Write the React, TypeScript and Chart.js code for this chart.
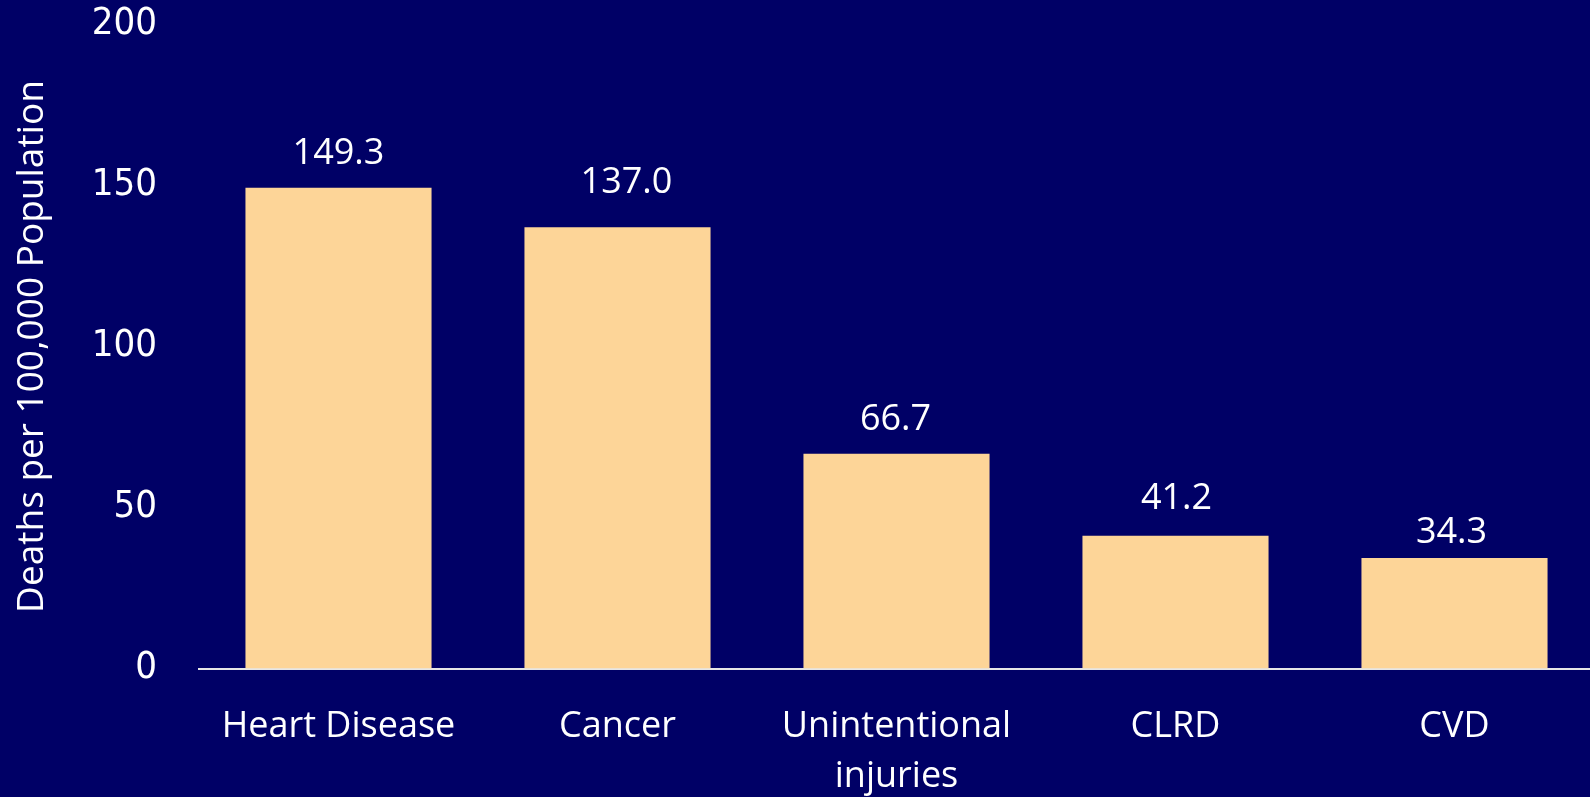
import React, { useEffect, useRef } from "react";
import { Chart, registerables } from "chart.js";

Chart.register(...registerables);

const categories: (string | string[])[] = [
  "Heart Disease",
  "Cancer",
  ["Unintentional", "injuries"],
  "CLRD",
  "CVD",
];
const deathRates: number[] = [149.3, 137.0, 66.7, 41.2, 34.3];
const yTicks: number[] = [0, 50, 100, 150, 200];
const yTitle = "Deaths per 100,000 Population";

// label placement tweaks (pixels relative to each bar's top/center)
const labelGap: number[] = [24, 34, 24, 27, 15];
const labelShiftX: number[] = [0, 9, -1, 1, -3];

const BG = "#000066";
const BAR = "#FDD598";
const WHITE = "#FFFFFF";

const valueLabelPlugin = {
  id: "valueLabels",
  afterDatasetsDraw(chart: any) {
    const ctx = chart.ctx;
    const meta = chart.getDatasetMeta(0);
    ctx.save();
    ctx.font = '36px "Open Sans"';
    ctx.fillStyle = WHITE;
    ctx.textAlign = "center";
    ctx.textBaseline = "alphabetic";
    meta.data.forEach((bar: any, i: number) => {
      const v = chart.data.datasets[0].data[i] as number;
      ctx.fillText(v.toFixed(1), bar.x + labelShiftX[i], bar.y - labelGap[i]);
    });
    ctx.restore();
  },
};

export default function App() {
  const ref = useRef<HTMLCanvasElement | null>(null);

  useEffect(() => {
    if (!ref.current) return;
    const chart = new Chart(ref.current, {
      type: "bar",
      data: {
        labels: categories,
        datasets: [
          {
            data: deathRates,
            backgroundColor: BAR,
            borderWidth: 0,
            barPercentage: 0.667,
            categoryPercentage: 1,
          },
        ],
      },
      options: {
        animation: false,
        responsive: false,
        maintainAspectRatio: false,
        layout: { padding: { top: 24.5, left: 0, right: 0, bottom: 0 } },
        plugins: {
          legend: { display: false },
          tooltip: { enabled: false },
        },
        scales: {
          x: {
            offset: true,
            grid: { display: false, drawTicks: false },
            border: { display: true, color: "#E6E6E6", width: 2 },
            ticks: {
              color: WHITE,
              font: { family: "Open Sans", size: 36, lineHeight: 1.39 },
              padding: 33.5,
              maxRotation: 0,
              autoSkip: false,
            },
            afterFit: (scale: any) => {
              scale.height = 797 - 668.5;
              scale.paddingLeft = 0;
              scale.paddingRight = 0;
            },
          },
          y: {
            min: 0,
            max: 200,
            afterBuildTicks: (scale: any) => {
              scale.ticks = yTicks.map((v) => ({ value: v }));
            },
            grid: { display: false, drawTicks: false },
            border: { display: false },
            ticks: {
              color: WHITE,
              font: { family: "'DejaVu Sans Condensed', 'DejaVu Sans'", size: 38 },
              padding: 42,
            },
            title: {
              display: true,
              text: yTitle,
              color: WHITE,
              font: { family: "Open Sans", size: 37 },
              padding: { top: 10, bottom: 0 },
            },
            afterFit: (scale: any) => {
              scale.width = 199;
              scale.paddingTop = 0;
              scale.paddingBottom = 0;
            },
          },
        },
      },
      plugins: [valueLabelPlugin],
    });
    return () => chart.destroy();
  }, []);

  return (
    <div
      style={{
        position: "fixed",
        top: 0,
        left: 0,
        width: 1590,
        height: 797,
        overflow: "hidden",
        background: BG,
      }}
    >
      <canvas ref={ref} width={1594} height={797} style={{ display: "block" }} />
    </div>
  );
}
